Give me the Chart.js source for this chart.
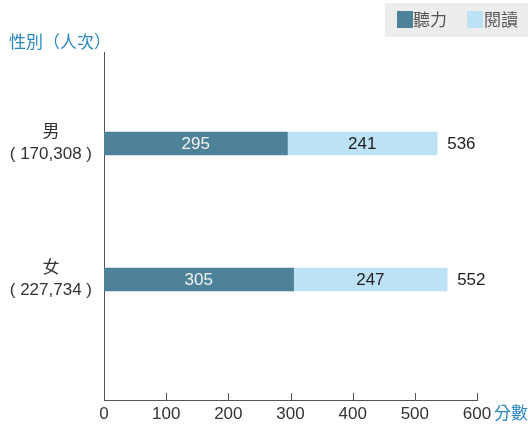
<!DOCTYPE html>
<html>
<head>
<meta charset="utf-8">
<script src="https://cdn.jsdelivr.net/npm/chart.js@4"></script>
<style>
  html, body { margin: 0; padding: 0; background: #fff; }
  #wrap { width: 528px; height: 425px; }
</style>
</head>
<body>
<div id="wrap"><canvas id="myChart"></canvas></div>
<script>
const genders = ['男', '女'];
const counts = ['170,308', '227,734'];
const listening = [295, 305];
const reading = [241, 247];
const totals = [536, 552];
const xTicks = [0, 100, 200, 300, 400, 500, 600];

const darkBlue = '#4e8299';
const lightBlue = '#bde2f6';
const titleBlue = '#2b87c2';
const numFont = "'Liberation Sans', 'Noto Sans CJK TC', sans-serif";

// etiquetas, leyenda y títulos dibujados a mano
const extras = {
    id: 'extras',
    beforeDraw(chart) {
        const ctx = chart.ctx;
        ctx.save();
        ctx.fillStyle = '#ededed';
        ctx.fillRect(385, 3, 143, 34);
        ctx.fillStyle = darkBlue;
        ctx.fillRect(397, 11, 16, 17);
        ctx.fillStyle = lightBlue;
        ctx.fillRect(467, 11, 16, 17);
        ctx.fillStyle = '#555';
        ctx.font = "17px 'Noto Sans CJK TC', sans-serif";
        ctx.textBaseline = 'middle';
        ctx.fillText('聽力', 413, 20);
        ctx.fillText('閱讀', 484, 20);
        ctx.fillStyle = titleBlue;
        ctx.font = "17px 'Noto Sans CJK TC', sans-serif";
        ctx.fillText('性別（人次）', 9, 42);
        ctx.fillText('分數', 494, 413);
        ctx.restore();
    },
    afterDatasetsDraw(chart) {
        const ctx = chart.ctx;
        const x = chart.scales.x;
        const y = chart.scales.y;
        ctx.save();
        // ticks hacia adentro
        ctx.strokeStyle = '#555';
        ctx.lineWidth = 1;
        xTicks.forEach(t => {
            const px = Math.round(x.getPixelForValue(t)) + 0.5;
            ctx.beginPath();
            ctx.moveTo(px, y.bottom);
            ctx.lineTo(px, y.bottom - 7);
            ctx.stroke();
        });
        ctx.font = '17px ' + numFont;
        ctx.textBaseline = 'middle';
        genders.forEach((g, i) => {
            const py = y.getPixelForValue(i);
            const x0 = x.getPixelForValue(0);
            const x1 = x.getPixelForValue(listening[i]);
            const x2 = x.getPixelForValue(totals[i]);
            ctx.textAlign = 'center';
            ctx.fillStyle = '#f2f2f2';
            ctx.fillText(listening[i], (x0 + x1) / 2, py + 1);
            ctx.fillStyle = '#222';
            ctx.fillText(reading[i], (x1 + x2) / 2, py + 1);
            ctx.textAlign = 'left';
            ctx.fillText(totals[i], x2 + 10, py + 1);
        });
        ctx.restore();
    }
};

const ctx = document.getElementById('myChart').getContext('2d');
new Chart(ctx, {
    type: 'bar',
    data: {
        datasets: [{
            label: '聽力',
            data: listening.map((v, i) => ({ x: v, y: i })),
            backgroundColor: darkBlue,
            barThickness: 23
        }, {
            label: '閱讀',
            data: reading.map((v, i) => ({ x: v, y: i })),
            backgroundColor: lightBlue,
            barThickness: 23
        }]
    },
    options: {
        indexAxis: 'y',
        responsive: true,
        maintainAspectRatio: false,
        animation: false,
        layout: { padding: { top: 52, right: 51, left: 0, bottom: 0 } },
        plugins: {
            legend: { display: false },
            tooltip: { enabled: false }
        },
        scales: {
            x: {
                type: 'linear',
                stacked: true,
                min: 0,
                max: 600,
                afterBuildTicks: s => { s.ticks = xTicks.map(v => ({ value: v })); },
                afterFit: s => { s.height = 25; s.paddingLeft = 0; s.paddingRight = 0; },
                grid: { display: false, drawTicks: false },
                border: { display: true, color: '#555', width: 1 },
                ticks: {
                    color: '#333',
                    padding: 4,
                    font: { family: numFont, size: 17 }
                }
            },
            y: {
                type: 'linear',
                stacked: true,
                reverse: true,
                offset: false,
                min: -0.673,
                max: 1.886,
                afterBuildTicks: s => { s.ticks = [{ value: 0 }, { value: 1 }]; },
                afterFit: s => { s.width = 104; s.paddingTop = 0; s.paddingBottom = 0; },
                grid: { display: false, drawTicks: false, offset: false },
                border: { display: true, color: '#555', width: 1 },
                ticks: {
                    color: '#333',
                    padding: 12,
                    crossAlign: 'center',
                    font: { family: numFont, size: 17, lineHeight: 1.3 },
                    callback: v => [genders[v], '( ' + counts[v] + ' )']
                }
            }
        }
    },
    plugins: [extras]
});
</script>
</body>
</html>
